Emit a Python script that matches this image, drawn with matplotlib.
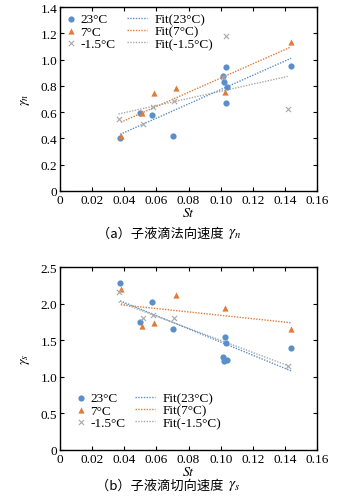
''' droplet velocity ratio vs St '''
import numpy as np
import matplotlib.pyplot as plt

plt.rcParams['font.family'] = ['Liberation Serif', 'DejaVu Serif']
plt.rcParams['mathtext.fontset'] = 'stix'

BLUE = '#5b8fc9'
ORANGE = '#e07b39'
GRAY = '#a8a8a8'

# (a) normal velocity
st_23_n = [0.0374, 0.0495, 0.0574, 0.0700, 0.1014, 0.1022, 0.1035, 0.1039, 0.1035, 0.1438]
gn_23 = [0.400, 0.593, 0.578, 0.417, 0.873, 0.832, 0.942, 0.789, 0.669, 0.954]
st_7_n = [0.0378, 0.0509, 0.0582, 0.0721, 0.1029, 0.1438]
gn_7 = [0.415, 0.596, 0.746, 0.784, 0.751, 1.130]
st_m_n = [0.0364, 0.0515, 0.0580, 0.0710, 0.1014, 0.1033, 0.1417]
gn_m = [0.547, 0.506, 0.636, 0.687, 0.870, 1.178, 0.626]
# fit lines: slope, intercept
fit_n = {'23': (5.45, 0.226), '7': (5.42, 0.317), 'm': (2.72, 0.486)}

# (b) tangential velocity
st_23_s = [0.0374, 0.0495, 0.0574, 0.0700, 0.1014, 0.1022, 0.1029, 0.1035, 0.1039, 0.1438]
gs_23 = [2.276, 1.743, 2.016, 1.651, 1.270, 1.210, 1.542, 1.460, 1.236, 1.391]
st_7_s = [0.0378, 0.0509, 0.0582, 0.0721, 0.1029, 0.1438]
gs_7 = [2.194, 1.700, 1.738, 2.117, 1.939, 1.651]
st_m_s = [0.0364, 0.0515, 0.0580, 0.0710, 0.1417]
gs_m = [2.158, 1.800, 1.838, 1.800, 1.145]
fit_s = {'23': (-9.0, 2.375), '7': (-2.32, 2.072), 'm': (-8.26, 2.324)}

LABELS = ['23°C', '7°C', '-1.5°C']


def draw(ax, series, fits, ylim, yticks, ylabel, leg_pos):
    colors = [BLUE, ORANGE, GRAY]
    markers = ['o', '^', 'x']
    keys = ['23', '7', 'm']
    pts, fls = [], []
    for (xs, ys), c, m, lab in zip(series, colors, markers, LABELS):
        if m == 'x':
            h = ax.scatter(xs, ys, marker=m, s=14, color=c, linewidths=0.8,
                           label=lab, zorder=3)
        else:
            h = ax.scatter(xs, ys, marker=m, s=20, color=c, linewidths=0,
                           label=lab, zorder=3)
        pts.append(h)
    for (xs, ys), c, k, lab in zip(series, colors, keys, LABELS):
        a, b = fits[k]
        xx = np.array([min(xs), max(xs)])
        h, = ax.plot(xx, a * xx + b, color=c, lw=1.0, ls=(0, (1, 1)),
                     label='Fit(' + lab + ')', zorder=2)
        fls.append(h)
    ax.set_xlim(0, 0.16)
    ax.set_ylim(*ylim)
    ax.set_xticks(np.arange(0, 0.161, 0.02))
    ax.set_xticklabels(['0'] + ['%.2f' % v for v in np.arange(0.02, 0.161, 0.02)])
    ax.set_yticks(yticks)
    ax.set_yticklabels(['0'] + ['%.1f' % v for v in yticks[1:]])
    ax.tick_params(direction='in', top=True, right=True, labelsize=9.5,
                   length=3, width=0.8, pad=2, labelfontfamily='Liberation Serif')
    for sp in ax.spines.values():
        sp.set_linewidth(1.0)
    ax.set_xlabel('$St$', fontsize=10, labelpad=0)
    ax.set_ylabel(ylabel, fontsize=10, labelpad=6)

    (xa, xb, y, loc) = leg_pos
    leg_a = ax.legend(handles=pts, loc=loc, bbox_to_anchor=(xa, y),
                      frameon=False, fontsize=9.5, handlelength=0.8,
                      handletextpad=0.3, labelspacing=0.0, borderaxespad=0.0,
                      borderpad=0.0)
    ax.add_artist(leg_a)
    ax.legend(handles=fls, loc=loc, bbox_to_anchor=(xb, y),
              frameon=False, fontsize=9.5, handlelength=1.5,
              handletextpad=0.6, labelspacing=0.0, borderaxespad=0.0,
              borderpad=0.0)


def main():
    '''main function '''
    fig = plt.figure(figsize=(3.41, 5.02), dpi=100)
    ax1 = fig.add_axes([0.176, 0.618, 0.754, 0.366])
    ax2 = fig.add_axes([0.176, 0.1016, 0.754, 0.3645])

    draw(ax1, [(st_23_n, gn_23), (st_7_n, gn_7), (st_m_n, gn_m)], fit_n,
         (0, 1.4), [0, 0.2, 0.4, 0.6, 0.8, 1.0, 1.2, 1.4], r'$\gamma_n$',
         (0.023, 0.261, 0.967, 'upper left'))
    draw(ax2, [(st_23_s, gs_23), (st_7_s, gs_7), (st_m_s, gs_m)], fit_s,
         (0, 2.5), [0, 0.5, 1.0, 1.5, 2.0, 2.5], r'$\gamma_s$',
         (0.062, 0.292, 0.115, 'lower left'))

    cap = ['Noto Sans CJK SC', 'DejaVu Sans']
    fig.text(0.665, 1 - 234 / 502, '（a）子液滴法向速度 ', ha='right', va='center',
             fontsize=9.5, family=cap)
    fig.text(0.67, 1 - 234 / 502, r'$\gamma_n$', ha='left', va='center', fontsize=11)
    fig.text(0.665, 1 - 486 / 502, '（b）子液滴切向速度 ', ha='right', va='center',
             fontsize=9.5, family=cap)
    fig.text(0.67, 1 - 486 / 502, r'$\gamma_s$', ha='left', va='center', fontsize=11)

    fig.savefig('out.png', dpi=100)


if __name__ == "__main__":
    main()
